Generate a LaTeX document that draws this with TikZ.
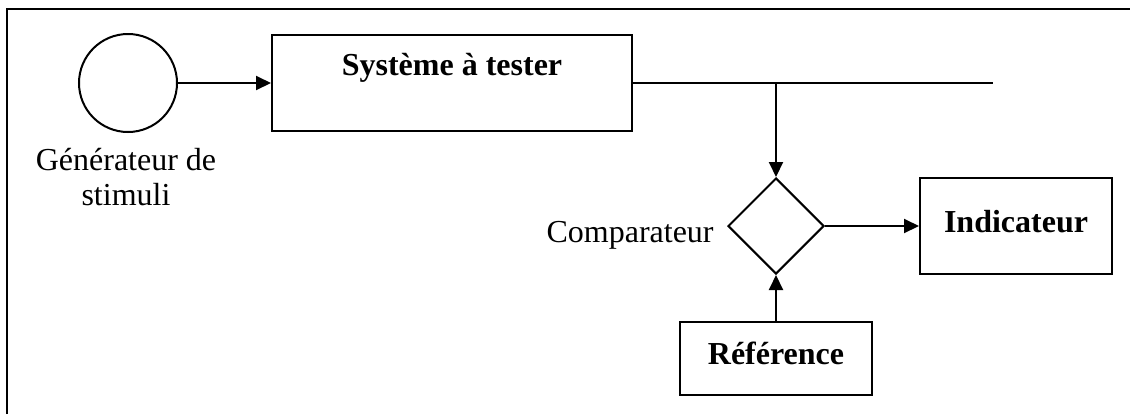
\documentclass[tikz,border=0pt]{standalone}
\usepackage{fontspec}
\setmainfont{Liberation Serif}
\usetikzlibrary{shapes.geometric,arrows.meta}
\tikzset{
  txt/.style={font=\fontsize{16pt}{17.5pt}\selectfont,inner sep=0pt},
  box/.style={draw,line width=1pt,inner sep=0pt,font=\fontsize{16pt}{17.5pt}\selectfont\bfseries},
  conn/.style={line width=1pt,-{Triangle[length=7.5pt,width=7pt]}}
}
\begin{document}
\begin{tikzpicture}[x=0.5pt,y=-0.5pt]
\useasboundingbox (0,0) rectangle (1130,414);
% frame
\draw[line width=1.3pt] (7,414) -- (7,9) -- (1130,9);

\node[draw,circle,line width=1pt,minimum size=49pt,inner sep=0pt] at (128,83) (gen) {};
\node[txt,align=center,anchor=base] at (126,205) (genlbl) {Générateur de\\stimuli};

\node[box,minimum width=180pt,text height=20pt,text depth=28pt] at (452,83) (sys) {Système à tester};
\coordinate (tap) at (776,83);
\coordinate (out) at (993,83);

\node[draw,diamond,aspect=1,line width=1pt,minimum width=48pt,minimum height=48pt,inner sep=0pt] at (776,226) (cmp) {};
\node[txt,anchor=base east] at (714,242) (cmplbl) {Comparateur};

\node[box,minimum width=96pt,text height=27pt,text depth=21pt] at (1016,226) (ind) {Indicateur};
\node[box,minimum width=96pt,text height=21pt,text depth=15.5pt] at (776,358.5) (ref) {Référence};

\draw[conn] (gen.east) -- (sys.west);
\draw[line width=1pt] (sys.east) -- (out);
\draw[conn] (tap) -- (cmp.north);
\draw[conn] (cmp.east) -- (ind.west);
\draw[conn] (ref.north) -- (cmp.south);
\end{tikzpicture}
\end{document}
